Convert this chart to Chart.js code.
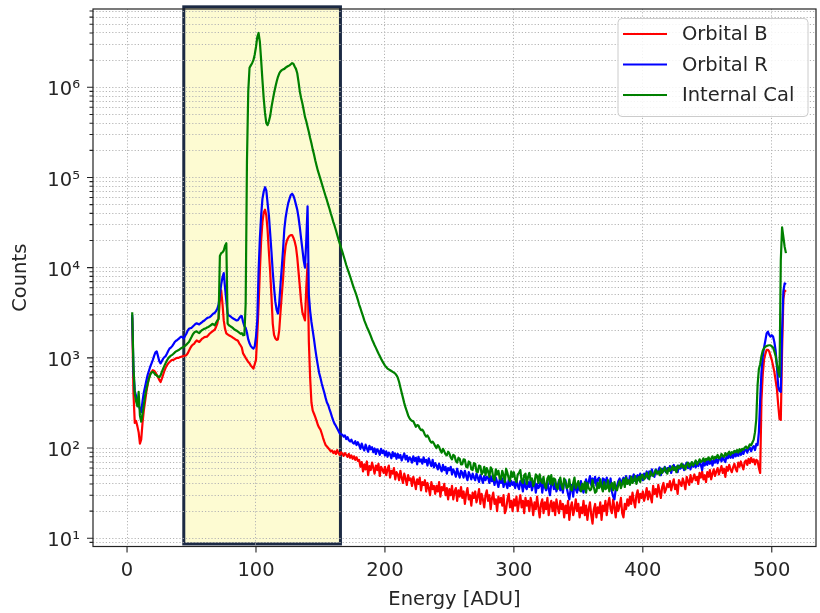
<!DOCTYPE html>
<html>
<head>
<meta charset="utf-8">
<script src="https://cdn.jsdelivr.net/npm/chart.js@4.4.1/dist/chart.umd.min.js"></script>
<style>
  html, body { margin: 0; padding: 0; background: #ffffff; }
  #wrap { width: 820px; height: 613px; }
</style>
</head>
<body>
<div id="wrap"><canvas id="spectrum" width="820" height="613"></canvas></div>
<script>
// Counts per energy channel (channel 0..511), Orbital B
const orbitalB = [
  0, 0, 0, 0, 2800, 400, 190, 200, 175, 150,
  112, 125, 190, 260, 330, 420, 510, 600, 670, 700,
  730, 720, 690, 650, 610, 570, 540, 590, 650, 720,
  780, 830, 870, 900, 930, 950, 950, 970, 990, 1000,
  1000, 1020, 1030, 1040, 1050, 1060, 1070, 1120, 1200, 1280,
  1350, 1400, 1430, 1500, 1560, 1530, 1500, 1560, 1620, 1660,
  1700, 1710, 1720, 1780, 1850, 1900, 1950, 2000, 2050, 2200,
  2400, 2800, 4300, 5600, 4000, 2600, 2100, 1870, 1820, 1780,
  1750, 1720, 1680, 1640, 1600, 1580, 1550, 1450, 1380, 1300,
  1120, 1060, 1000, 950, 900, 870, 820, 790, 760, 850,
  950, 1800, 3800, 9000, 20000, 32000, 41000, 44000, 38000, 26000,
  15000, 9000, 4800, 2400, 1800, 1650, 1580, 1600, 2000, 3200,
  5000, 7500, 13000, 17500, 20000, 21500, 22500, 23000, 23000, 21500,
  19500, 17000, 13000, 9000, 6200, 4200, 3200, 2880, 2600, 6000,
  11000, 1500, 600, 320, 260, 240, 220, 200, 180, 168,
  160, 145, 130, 118, 108, 104, 100, 96, 92, 94,
  88, 92, 86, 95, 88, 84, 90, 86, 82, 88,
  84, 80, 86, 78, 83, 76, 81, 74, 79, 72,
  74, 62, 70, 55, 66, 58, 71, 50, 63, 57,
  69, 60, 52, 64, 57, 67, 49, 62, 58, 53,
  62, 50, 58, 64, 47, 56, 52, 60, 45, 54,
  51, 44, 56, 47, 41, 52, 46, 39, 50, 44,
  46, 38, 48, 42, 35, 45, 40, 47, 34, 42,
  39, 44, 33, 41, 36, 30, 42, 35, 38, 31,
  38, 33, 42, 29, 37, 34, 40, 30, 36, 27,
  35, 30, 38, 27, 33, 36, 26, 34, 29, 37,
  28, 33, 24, 31, 36, 27, 30, 23, 32, 28,
  33, 25, 29, 35, 24, 31, 27, 22, 30, 34,
  26, 30, 21, 28, 32, 24, 27, 20, 29, 25,
  28, 23, 30, 19, 21, 27, 31, 22, 26, 20,
  27, 23, 29, 20, 25, 30, 22, 26, 19, 28,
  23, 26, 20, 28, 24, 18, 25, 21, 29, 22,
  17, 24, 27, 19, 25, 21, 28, 18, 23, 26,
  20, 25, 18, 27, 22, 19, 26, 21, 24, 17,
  23, 19, 26, 16, 22, 25, 18, 21, 27, 20,
  24, 17, 22, 19, 26, 18, 23, 16, 21, 25,
  18, 14.5, 21, 24, 17, 22, 19, 25, 16, 23,
  20, 26, 18, 24, 28, 21, 19, 27, 22, 17,
  25, 20, 23, 28, 19, 17, 24, 21, 27, 23,
  29, 24, 32, 26, 22, 30, 34, 25, 31, 28,
  33, 26, 30, 36, 27, 33, 29, 25, 38, 31,
  35, 29, 39, 33, 28, 37, 41, 32, 35, 40,
  37, 43, 34, 40, 45, 35, 39, 31, 44, 41,
  38, 46, 41, 35, 48, 43, 39, 50, 42, 46,
  51, 44, 48, 40, 53, 47, 55, 45, 50, 42,
  54, 48, 57, 45, 52, 58, 49, 55, 60, 51,
  57, 63, 53, 59, 48, 62, 56, 65, 58, 54,
  61, 67, 59, 55, 69, 62, 71, 64, 58, 70,
  73, 65, 76, 68, 78, 70, 75, 66, 74, 72,
  60, 53, 340, 650, 950, 1100, 1230, 1230, 1180, 1050,
  950, 820, 700, 560, 450, 300, 210, 205, 1200, 4500,
  5600, 5400
];

// Counts per energy channel, Orbital R
const orbitalR = [
  0, 0, 0, 0, 3000, 700, 430, 380, 330, 300,
  270, 250, 330, 410, 480, 560, 650, 720, 800, 870,
  950, 1050, 1150, 1180, 1050, 920, 870, 920, 980, 1020,
  1050, 1120, 1200, 1270, 1300, 1350, 1420, 1500, 1550, 1580,
  1620, 1680, 1720, 1690, 1650, 1750, 1850, 2000, 2100, 2130,
  2150, 2230, 2300, 2380, 2420, 2380, 2350, 2420, 2480, 2550,
  2600, 2680, 2750, 2800, 2820, 2900, 3000, 3100, 3150, 3300,
  3500, 3900, 5000, 6500, 7800, 8700, 6000, 4300, 3100, 2950,
  2900, 2820, 2750, 2700, 2650, 2600, 2620, 2750, 2880, 2900,
  2500, 2250, 2150, 1900, 1600, 1450, 1350, 1300, 1270, 1330,
  1720, 2600, 9000, 21000, 38000, 58000, 70000, 78000, 72000, 52000,
  38000, 24000, 15000, 9000, 6000, 4200, 3400, 3100, 4000, 6500,
  10000, 16000, 27000, 36000, 44000, 52000, 58000, 64000, 66000, 63000,
  57000, 50000, 44000, 36000, 28000, 21000, 16000, 12000, 10000, 20000,
  48000, 5000, 3300, 2500, 2000, 1600, 1250, 1000, 820, 680,
  600, 520, 460, 410, 360, 320, 300, 270, 245, 220,
  200, 185, 176, 165, 155, 145, 142, 140, 134, 138,
  126, 132, 122, 118, 124, 115, 112, 119, 108, 116,
  108, 98, 112, 101, 94, 109, 99, 91, 106, 97,
  102, 90, 99, 86, 97, 93, 84, 98, 88, 94,
  83, 92, 80, 89, 85, 77, 90, 81, 87, 76,
  86, 78, 84, 73, 80, 87, 75, 82, 71, 79,
  76, 69, 81, 72, 78, 66, 80, 71, 75, 67,
  79, 70, 74, 64, 77, 69, 63, 74, 61, 68,
  64, 58, 67, 60, 55, 65, 57, 62, 52, 60,
  57, 62, 51, 58, 54, 48, 59, 52, 47, 56,
  53, 47, 56, 49, 44, 54, 50, 45, 52, 47,
  44, 52, 47, 42, 50, 46, 41, 49, 44, 48,
  47, 41, 49, 43, 46, 39, 47, 42, 37, 45,
  41, 46, 37, 44, 40, 36, 45, 38, 43, 39,
  42, 36, 45, 38, 35, 43, 40, 33, 44, 37,
  35, 42, 37, 45, 34, 39, 43, 32, 40, 36,
  38, 45, 32, 41, 37, 34, 43, 35, 30, 40,
  43, 35, 41, 33, 38, 44, 34, 40, 32, 42,
  44, 36, 31, 27, 35, 39, 29, 41, 35, 32,
  41, 34, 43, 36, 32, 40, 45, 37, 42, 49,
  39, 46, 41, 48, 38, 45, 47, 40, 37, 46,
  45, 39, 47, 41, 37, 46, 33, 29, 27, 35,
  38, 43, 46, 39, 44, 47, 40, 49, 43, 41,
  49, 42, 47, 51, 43, 48, 50, 44, 52, 47,
  44, 52, 47, 55, 46, 55, 49, 58, 51, 48,
  58, 52, 56, 61, 50, 59, 55, 62, 54, 60,
  56, 63, 53, 61, 65, 57, 62, 54, 64, 59,
  61, 66, 57, 64, 69, 60, 67, 58, 69, 62,
  68, 61, 70, 63, 72, 65, 57, 71, 64, 73,
  65, 72, 67, 75, 64, 73, 69, 77, 68, 75,
  79, 71, 81, 74, 70, 83, 77, 86, 78, 85,
  78, 87, 81, 89, 82, 91, 84, 93, 86, 95,
  96, 89, 98, 101, 92, 101, 105, 95, 111, 108,
  150, 340, 700, 1030, 1300, 1550, 1870, 1950, 1800, 1720,
  1780, 1720, 1500, 1200, 800, 480, 430, 420, 2000, 5500,
  6700, 6500
];

// Counts per energy channel, Internal Cal
const internalCal = [
  0, 0, 0, 0, 3200, 800, 400, 330, 290, 420,
  230, 196, 240, 300, 380, 450, 520, 590, 650, 690,
  700, 680, 650, 640, 620, 610, 640, 700, 760, 820,
  880, 940, 990, 1030, 1060, 1080, 1110, 1150, 1180, 1200,
  1220, 1250, 1280, 1300, 1330, 1360, 1400, 1450, 1500, 1600,
  1700, 1820, 1900, 1950, 1970, 1920, 1880, 1960, 2030, 2060,
  2100, 2120, 2170, 2200, 2250, 2300, 2380, 2350, 2300, 2450,
  2600, 2700, 13500, 14500, 14800, 15500, 17500, 18700, 2400, 2300,
  2250, 2200, 2150, 2080, 2040, 2000, 1950, 1900, 1850, 1880,
  1780, 1800, 4000, 150000, 900000, 1650000, 1750000, 1850000, 2000000, 2300000,
  2800000, 3600000, 4000000, 3200000, 2000000, 1200000, 750000, 520000, 400000, 380000,
  420000, 480000, 600000, 720000, 860000, 1000000, 1150000, 1300000, 1420000, 1500000,
  1550000, 1580000, 1600000, 1650000, 1690000, 1720000, 1750000, 1800000, 1850000, 1820000,
  1700000, 1600000, 1430000, 1150000, 900000, 760000, 660000, 560000, 470000, 420000,
  366000, 320000, 274000, 240000, 205000, 180000, 154000, 135000, 119000, 107000,
  96000, 86000, 77000, 69000, 62000, 56000, 50000, 45000, 40000, 36000,
  32000, 29000, 26000, 23000, 20500, 18500, 16600, 15000, 13400, 12000,
  10700, 9700, 8800, 8000, 7200, 6500, 5900, 5400, 4900, 4400,
  3900, 3550, 3200, 2900, 2600, 2400, 2200, 2050, 1900, 1750,
  1600, 1490, 1380, 1290, 1200, 1120, 1050, 980, 920, 870,
  820, 790, 760, 745, 730, 715, 700, 685, 670, 640,
  600, 540, 470, 410, 360, 315, 280, 255, 230, 215,
  205, 200, 198, 185, 172, 180, 178, 165, 158, 160,
  152, 140, 134, 138, 130, 120, 115, 118, 112, 105,
  100, 108, 103, 94, 89, 98, 92, 85, 83, 91,
  87, 79, 75, 84, 82, 72, 69, 78, 76, 66,
  66, 75, 74, 62, 61, 71, 69, 58, 57, 68,
  67, 55, 54, 64, 63, 51, 54, 62, 50, 60,
  55, 48, 61, 58, 47, 44, 58, 51, 56, 46,
  45, 56, 50, 42, 59, 53, 46, 43, 55, 48,
  54, 45, 42, 51, 53, 57, 43, 41, 50, 52,
  40, 48, 53, 44, 46, 38, 42, 51, 49, 41,
  51, 43, 41, 48, 38, 36, 46, 49, 40, 50,
  39, 46, 45, 37, 35, 43, 47, 38, 35, 46,
  42, 36, 37, 45, 35, 34, 41, 47, 36, 39,
  43, 36, 33, 40, 35, 42, 32, 41, 36, 34,
  35, 44, 37, 32, 33, 41, 36, 45, 37, 33,
  42, 35, 36, 44, 33, 38, 41, 34, 42, 35,
  34, 39, 43, 36, 40, 45, 37, 47, 40, 44,
  39, 48, 41, 44, 49, 40, 45, 48, 42, 50,
  50, 45, 47, 53, 48, 45, 55, 51, 49, 53,
  57, 52, 55, 50, 59, 53, 56, 61, 55, 52,
  60, 56, 58, 63, 57, 61, 54, 64, 60, 62,
  67, 61, 64, 58, 66, 69, 62, 65, 70, 64,
  68, 73, 66, 69, 75, 70, 72, 77, 71, 76,
  74, 79, 73, 76, 81, 75, 80, 78, 84, 77,
  79, 86, 82, 80, 88, 83, 87, 91, 84, 90,
  88, 93, 90, 95, 89, 97, 92, 98, 96, 101,
  104, 99, 103, 110, 107, 115, 124, 150, 210, 500,
  750, 850, 1050, 1200, 1280, 1330, 1350, 1370, 1380, 1380,
  1340, 1300, 1180, 1050, 850, 700, 620, 12000, 28000, 22000,
  17000, 14500
];

// Channel number of each bin (x position in ADU)
const energy = orbitalB.map((_, ch) => ch);

const seriesNames = ['Orbital B', 'Orbital R', 'Internal Cal'];
const seriesColors = ['#ff0000', '#0000ff', '#008000'];
const seriesData = [orbitalB, orbitalR, internalCal];

// Axis ticks
const xTicks = [0, 100, 200, 300, 400, 500];
const yDecades = [10, 100, 1000, 10000, 100000, 1000000];
const yTickLabels = ['10¹', '10²', '10³', '10⁴', '10⁵', '10⁶'];

// Highlighted energy window (ADU) and its vertical extent (counts)
const windowEnergy = [44, 165.5];
const windowCounts = [8.65, 7.8e6];

const FONT = 'DejaVu Sans';
const TEXT = '#262626';
const Y_MIN = 8.1, Y_MAX = 7.38e6;

// log ticks 1..9 x each decade inside the visible range
const yTickValues = [];
[1, 10, 100, 1000, 10000, 100000, 1000000].forEach(d => {
  for (let m = 1; m <= 9; m++) {
    const v = m * d;
    if (v >= Y_MIN && v <= Y_MAX) yTickValues.push(v);
  }
});

function roundedRect(ctx, x, y, w, h, r) {
  ctx.beginPath();
  ctx.moveTo(x + r, y);
  ctx.lineTo(x + w - r, y);
  ctx.arcTo(x + w, y, x + w, y + r, r);
  ctx.lineTo(x + w, y + h - r);
  ctx.arcTo(x + w, y + h, x + w - r, y + h, r);
  ctx.lineTo(x + r, y + h);
  ctx.arcTo(x, y + h, x, y + h - r, r);
  ctx.lineTo(x, y + r);
  ctx.arcTo(x, y, x + r, y, r);
  ctx.closePath();
}

const framePlugin = {
  id: 'frame',
  beforeDraw(chart) {
    const { ctx, scales: { x, y } } = chart;
    ctx.save();
    ctx.fillStyle = '#ffffff';
    ctx.fillRect(0, 0, chart.width, chart.height);
    // shaded energy window
    const x0 = x.getPixelForValue(windowEnergy[0]);
    const x1 = x.getPixelForValue(windowEnergy[1]);
    const yb = y.getPixelForValue(windowCounts[0]);
    const yt = y.getPixelForValue(windowCounts[1]);
    ctx.fillStyle = '#fdfbd2';
    ctx.fillRect(x0, yt, x1 - x0, yb - yt);
    ctx.lineWidth = 3;
    ctx.strokeStyle = '#1c2a44';
    ctx.strokeRect(x0, yt, x1 - x0, yb - yt);
    ctx.restore();
  },
  afterDraw(chart) {
    const { ctx, chartArea: a, scales: { x, y } } = chart;
    ctx.save();
    // axes frame
    ctx.strokeStyle = '#222222';
    ctx.lineWidth = 1.2;
    ctx.strokeRect(a.left, a.top, a.right - a.left, a.bottom - a.top);
    // tick marks
    ctx.lineWidth = 1.1;
    ctx.beginPath();
    y.ticks.forEach(t => {
      const p = y.getPixelForValue(t.value);
      const len = yDecades.includes(t.value) ? 6 : 3.5;
      ctx.moveTo(a.left - len, p);
      ctx.lineTo(a.left, p);
    });
    xTicks.forEach(v => {
      const p = x.getPixelForValue(v);
      ctx.moveTo(p, a.bottom);
      ctx.lineTo(p, a.bottom + 6);
    });
    ctx.stroke();

    // legend
    const lw = 190, lh = 98;
    const lx = a.right - 8 - lw, ly = a.top + 9.5;
    roundedRect(ctx, lx, ly, lw, lh, 4);
    ctx.fillStyle = 'rgba(255,255,255,0.85)';
    ctx.fill();
    ctx.strokeStyle = '#cccccc';
    ctx.lineWidth = 1;
    ctx.stroke();
    ctx.font = '19.5px "' + FONT + '"';
    ctx.textBaseline = 'middle';
    ctx.textAlign = 'left';
    chart.data.datasets.forEach((ds, i) => {
      const cy = ly + 15.5 + i * 30.5;
      ctx.strokeStyle = ds.borderColor;
      ctx.lineWidth = 2;
      ctx.beginPath();
      ctx.moveTo(lx + 5, cy);
      ctx.lineTo(lx + 49, cy);
      ctx.stroke();
      ctx.fillStyle = TEXT;
      ctx.fillText(ds.label, lx + 64, cy + 1);
    });
    ctx.restore();
  }
};

const ctx = document.getElementById('spectrum').getContext('2d');
new Chart(ctx, {
  type: 'line',
  data: {
    datasets: seriesData.map((arr, i) => ({
      label: seriesNames[i],
      data: energy.map((e, k) => ({ x: e, y: arr[k] })),
      borderColor: seriesColors[i],
      backgroundColor: seriesColors[i],
      borderWidth: 2.2,
      pointRadius: 0,
      tension: 0,
      fill: false,
      borderJoinStyle: 'round',
      order: 3 - i
    }))
  },
  options: {
    responsive: false,
    animation: false,
    devicePixelRatio: 1,
    layout: { padding: { left: 0, top: 9, right: 4, bottom: 0 } },
    plugins: { legend: { display: false }, tooltip: { enabled: false } },
    scales: {
      x: {
        type: 'linear',
        min: -26.4,
        max: 534.3,
        afterBuildTicks: s => { s.ticks = xTicks.map(v => ({ value: v })); },
        afterFit: s => { s.height = 66.5; s.paddingLeft = 0; s.paddingRight = 0; },
        grid: { color: '#b5b5b5', lineWidth: 1, drawTicks: false },
        border: { display: false, dash: [1.2, 2] },
        ticks: {
          autoSkip: false, maxRotation: 0, padding: 12.5,
          color: TEXT, font: { family: FONT, size: 19.5 },
          callback: v => String(v)
        },
        title: {
          display: true, text: 'Energy [ADU]', color: TEXT,
          font: { family: FONT, size: 19.5 }, padding: { top: 0, bottom: 1 }
        }
      },
      y: {
        type: 'logarithmic',
        min: Y_MIN,
        max: Y_MAX,
        afterBuildTicks: s => {
          s.ticks = yTickValues.map(v => ({ value: v, major: yDecades.includes(v) }));
        },
        afterFit: s => { s.width = 93; s.paddingTop = 0; s.paddingBottom = 0; },
        grid: { color: '#b5b5b5', lineWidth: 1, drawTicks: false },
        border: { display: false, dash: [1.2, 2] },
        ticks: {
          autoSkip: false, padding: 13, labelOffset: 3,
          color: TEXT, font: { family: FONT, size: 19.5 },
          callback: v => {
            const k = yDecades.indexOf(v);
            return k >= 0 ? yTickLabels[k] : '';
          }
        },
        title: {
          display: true, text: 'Counts', color: TEXT,
          font: { family: FONT, size: 19.5 }, padding: { top: 9, bottom: 0 }
        }
      }
    }
  },
  plugins: [framePlugin]
});
</script>
</body>
</html>
